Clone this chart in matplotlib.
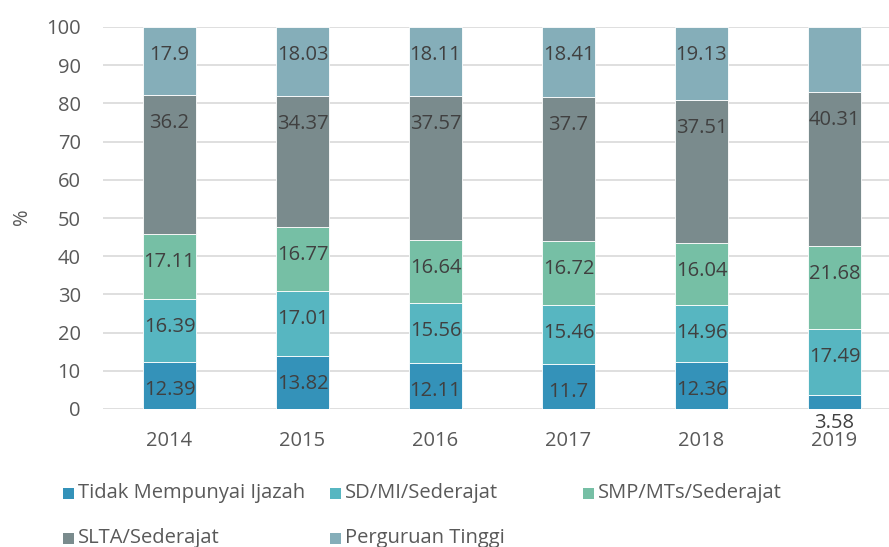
import matplotlib
matplotlib.use("Agg")
import matplotlib.pyplot as plt
from matplotlib.patches import Rectangle

years = ["2014", "2015", "2016", "2017", "2018", "2019"]
tidak_ijazah = [12.39, 13.82, 12.11, 11.7, 12.36, 3.58]
sd_mi = [16.39, 17.01, 15.56, 15.46, 14.96, 17.49]
smp_mts = [17.11, 16.77, 16.64, 16.72, 16.04, 21.68]
slta = [36.2, 34.37, 37.57, 37.7, 37.51, 40.31]
perguruan_tinggi = [17.9, 18.03, 18.11, 18.41, 19.13, 16.94]
pt_shown = [True, True, True, True, True, False]  # 2019 has no label in the source

series_names = ["Tidak Mempunyai Ijazah", "SD/MI/Sederajat", "SMP/MTs/Sederajat",
                "SLTA/Sederajat", "Perguruan Tinggi"]
colors = ["#3492B9", "#57B6C1", "#76BFA5", "#7A8B8D", "#85AEB9"]

plt.rcParams["font.family"] = ["Open Sans", "DejaVu Sans"]

fig = plt.figure(figsize=(8.89, 5.47), dpi=100)
ax = fig.add_axes([103 / 889, 138 / 547, 798 / 889, 382 / 547])

data = [tidak_ijazah, sd_mi, smp_mts, slta, perguruan_tinggi]
x = list(range(len(years)))
bottom = [0.0] * len(years)
for i, (vals, col) in enumerate(zip(data, colors)):
    ax.bar(x, vals, width=0.4, bottom=bottom, color=col,
           edgecolor="white", linewidth=0.6, zorder=3)
    for j, v in enumerate(vals):
        if i == 4 and not pt_shown[j]:
            continue
        top = bottom[j] + v
        ax.annotate(f"{v:g}", (j, top), xytext=(0, -28), textcoords="offset pixels",
                    ha="center", va="center", fontsize=14.5, color="#404040", zorder=4)
    bottom = [b + v for b, v in zip(bottom, vals)]

ax.set_xlim(-0.5, 5.5)
ax.set_ylim(0, 100)
ax.set_yticks(range(0, 101, 10))
ax.set_xticks(x)
ax.set_xticklabels(years)
ax.tick_params(axis="both", length=0, labelsize=14.5, labelcolor="#595959")
ax.tick_params(axis="x", pad=16)
ax.tick_params(axis="y", pad=16)
ax.grid(axis="y", color="#D9D9D9", linewidth=1.2, zorder=0)
for s in ax.spines.values():
    s.set_visible(False)
fig.text(22 / 889, (547 - 217) / 547, "%", rotation=90, fontsize=14.5, color="#595959",
         ha="center", va="center")

# legend drawn like the Excel one: fixed-width columns
legend_pos = [(63, 493), (330, 493), (583, 493), (63, 538), (330, 538)]
for name, col, (px, py) in zip(series_names, colors, legend_pos):
    fig.patches.append(Rectangle((px / 889, (547 - py - 5.5) / 547), 11 / 889, 11 / 547,
                                 transform=fig.transFigure, facecolor=col, edgecolor="none"))
    fig.text((px + 15) / 889, (547 - py) / 547, name, fontsize=14.5, color="#595959",
             ha="left", va="center")

fig.savefig("out.png", dpi=100, facecolor="white")
